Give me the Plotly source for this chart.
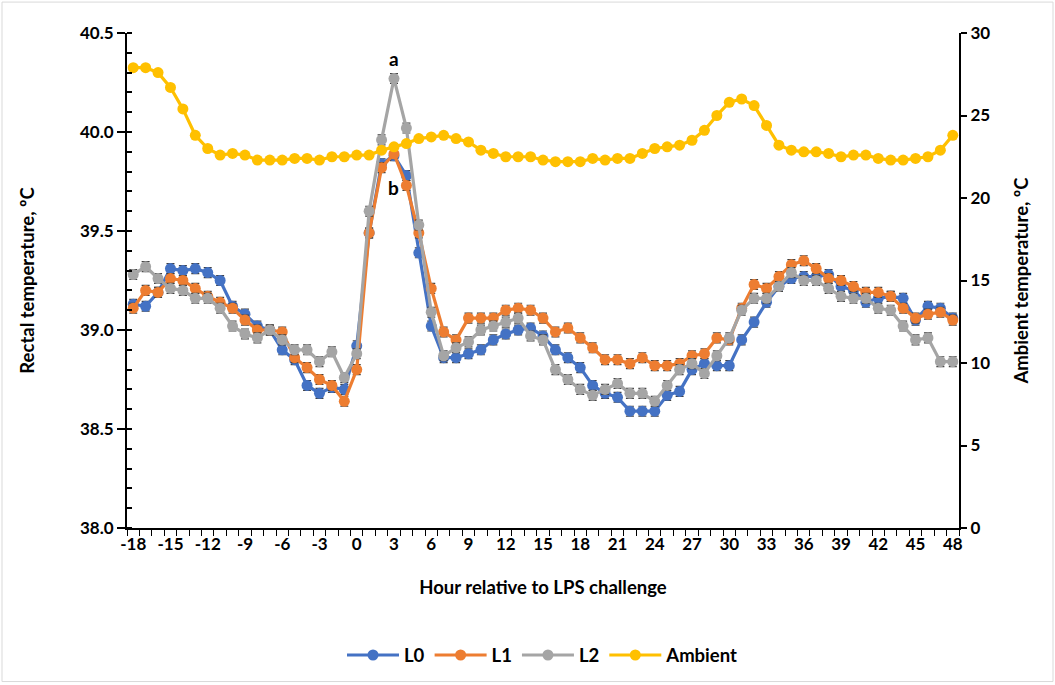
import plotly.graph_objects as go

hours = list(range(-18, 49))

L0 = [39.13, 39.12, 39.19, 39.31, 39.30, 39.31, 39.29, 39.25, 39.12, 39.08,
      39.02, 39.00, 38.90, 38.85, 38.72, 38.68, 38.71, 38.70, 38.92, 39.49,
      39.84, 39.88, 39.78, 39.39, 39.02, 38.86, 38.86, 38.88, 38.90, 38.95,
      38.98, 39.00, 39.01, 38.97, 38.90, 38.86, 38.81, 38.72, 38.68, 38.66,
      38.59, 38.59, 38.59, 38.67, 38.69, 38.80, 38.83, 38.82, 38.82, 38.95,
      39.04, 39.14, 39.22, 39.26, 39.27, 39.27, 39.28, 39.22, 39.20, 39.14,
      39.16, 39.17, 39.16, 39.05, 39.12, 39.11, 39.06]

L1 = [39.11, 39.20, 39.19, 39.26, 39.25, 39.21, 39.17, 39.14, 39.11, 39.05,
      39.00, 39.00, 38.99, 38.86, 38.81, 38.75, 38.72, 38.64, 38.80, 39.49,
      39.82, 39.89, 39.73, 39.49, 39.21, 38.99, 38.95, 39.06, 39.06, 39.06,
      39.10, 39.11, 39.10, 39.06, 38.99, 39.01, 38.96, 38.91, 38.85, 38.85,
      38.83, 38.86, 38.82, 38.82, 38.83, 38.87, 38.88, 38.96, 38.95, 39.11,
      39.23, 39.21, 39.27, 39.33, 39.35, 39.31, 39.26, 39.25, 39.22, 39.19,
      39.19, 39.17, 39.11, 39.06, 39.08, 39.09, 39.05]

L2 = [39.28, 39.32, 39.26, 39.21, 39.20, 39.16, 39.16, 39.11, 39.02, 38.98,
      38.96, 39.00, 38.95, 38.90, 38.90, 38.84, 38.89, 38.76, 38.88, 39.60,
      39.96, 40.27, 40.02, 39.53, 39.09, 38.87, 38.91, 38.94, 39.00, 39.02,
      39.04, 39.06, 38.97, 38.95, 38.80, 38.75, 38.70, 38.67, 38.70, 38.73,
      38.68, 38.68, 38.64, 38.72, 38.80, 38.83, 38.78, 38.87, 38.96, 39.10,
      39.16, 39.16, 39.22, 39.29, 39.25, 39.25, 39.21, 39.17, 39.16, 39.16,
      39.11, 39.10, 39.02, 38.95, 38.96, 38.84, 38.84]

Ambient = [27.9, 27.9, 27.6, 26.7, 25.4, 23.8, 23.0, 22.6, 22.7, 22.6,
           22.3, 22.3, 22.3, 22.4, 22.4, 22.3, 22.5, 22.5, 22.6, 22.6,
           22.9, 23.1, 23.3, 23.6, 23.7, 23.8, 23.6, 23.4, 22.9, 22.7,
           22.5, 22.5, 22.5, 22.3, 22.2, 22.2, 22.2, 22.4, 22.3, 22.4,
           22.4, 22.7, 23.0, 23.1, 23.2, 23.5, 24.1, 25.0, 25.8, 26.0,
           25.6, 24.4, 23.2, 22.9, 22.8, 22.8, 22.7, 22.5, 22.6, 22.6,
           22.4, 22.3, 22.3, 22.4, 22.5, 22.9, 23.8]

SE = 0.025
x_ticks = list(range(-18, 49, 3))

FONT = "Lato"
colors = {"L0": "#4472C4", "L1": "#ED7D31", "L2": "#A5A5A5", "Ambient": "#FFC000"}

fig = go.Figure()
for name, vals in [("L0", L0), ("L1", L1), ("L2", L2)]:
    fig.add_trace(go.Scatter(
        x=hours, y=vals, name=name, mode="lines+markers",
        line=dict(color=colors[name], width=3.2),
        marker=dict(color=colors[name], size=11),
        error_y=dict(type="constant", value=SE, color="#404040", thickness=1.2, width=4),
    ))
fig.add_trace(go.Scatter(
    x=hours, y=Ambient, name="Ambient", mode="lines+markers", yaxis="y2",
    line=dict(color=colors["Ambient"], width=3.2),
    marker=dict(color=colors["Ambient"], size=11),
))

fig.add_annotation(x=3, y=40.37, text="<b>a</b>", showarrow=False,
                   font=dict(family=FONT, size=19, color="black"))
fig.add_annotation(x=3, y=39.72, text="<b>b</b>", showarrow=False,
                   font=dict(family=FONT, size=19, color="black"))

axis_font = dict(family=FONT, size=17, color="black", weight="bold")
title_font = dict(family=FONT, size=18.5, color="black", weight="bold")

fig.update_layout(
    width=1055, height=685,
    margin=dict(l=127, r=96, t=33, b=156),
    paper_bgcolor="white", plot_bgcolor="white",
    font=dict(family=FONT, color="black"),
    xaxis=dict(
        range=[-18.5, 48.5], tickvals=x_ticks, ticktext=[str(v) for v in x_ticks],
        ticks="", showline=True, linecolor="black", linewidth=2,
        tickfont=axis_font, showgrid=False, zeroline=False,
        minor=dict(tick0=-18.5, dtick=1, ticks="outside", ticklen=6,
                   tickcolor="black", tickwidth=1, showgrid=False),
        title=dict(text="Hour relative to LPS challenge", font=title_font, standoff=28),
    ),
    yaxis=dict(
        range=[38.0, 40.5], dtick=0.5, tickformat=".1f",
        ticks="outside", ticklen=8, tickwidth=1.5, tickcolor="black",
        showline=True, linecolor="black", linewidth=2,
        tickfont=axis_font, showgrid=False, zeroline=False,
        minor=dict(dtick=0.1, ticks="inside", ticklen=5, tickcolor="black", showgrid=False),
        title=dict(text="Rectal temperature, ºC", font=title_font, standoff=40),
    ),
    yaxis2=dict(
        range=[0, 30], dtick=5, overlaying="y", side="right",
        ticks="outside", ticklen=6, tickwidth=1.5, tickcolor="black",
        showline=True, linecolor="black", linewidth=2,
        tickfont=axis_font, showgrid=False, zeroline=False,
        title=dict(text="Ambient temperature, ºC", font=title_font, standoff=26),
    ),
    legend=dict(orientation="h", x=0.5, xanchor="center", y=-0.255, yanchor="middle",
                font=dict(family=FONT, size=18.5, color="black", weight="bold"),
                itemwidth=52),
    showlegend=True,
)

fig.add_shape(type="rect", xref="paper", yref="paper",
              x0=-125/832, x1=1 + 94/832, y0=-154/496.5, y1=1 + 31/496.5,
              line=dict(color="#D9D9D9", width=1))

fig.write_html("out.html")
